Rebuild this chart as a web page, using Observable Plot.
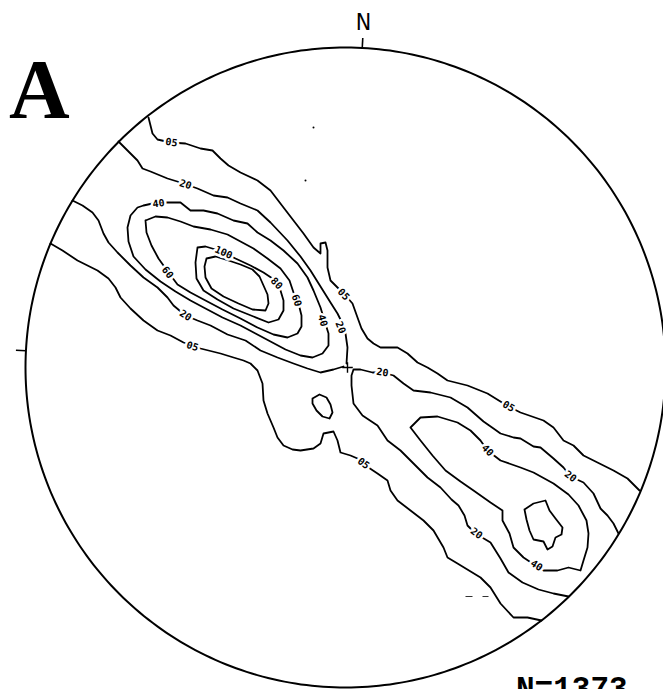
<!DOCTYPE html>
<html>
<head>
<meta charset="utf-8">
<script src="https://cdn.jsdelivr.net/npm/d3@7"></script>
<script src="https://cdn.jsdelivr.net/npm/@observablehq/plot@0.6"></script>
<style>
html,body{margin:0;padding:0;background:#fff;overflow:hidden}
#chart{position:relative;width:663px;height:689px}
</style>
</head>
<body>
<div id="chart"></div>
<script>
// Net coordinates: origin at the centre of the equal-area net, x east, y north, net radius R.
const R = 320;
const panelLetter = "A";
const sampleLabel = "N=1373";
const northLabel = "N";
const tickAzimuths = [3, 273];          // degrees clockwise from the top of the net
const centreMark = [[2, 0]];

// Contour lines (density in % per 1% area), traced as [x, y] net coordinates
const contour05Upper = [[-197,250],[-193,234],[-188,228],[-175,225],[-160,224],[-145,219],[-133,217],[-125,209],[-117,202],[-105,195],[-88,187],[-75,177],[-62,160],[-52,147],[-42,134],[-32,120],[-25,114],[-25,124],[-20,125],[-18,117],[-18,100],[-15,87],[-10,82],[0,72],[7,64],[12,50],[16,39],[22,29],[28,24],[35,20],[52,20],[62,14],[72,5],[82,0],[92,-6],[102,-13],[122,-18],[142,-26],[163,-39],[175,-45],[198,-53],[208,-60],[218,-73],[228,-78],[238,-88],[252,-95],[268,-103],[282,-111],[294,-123]];
const contour05Lower = [[-295,124],[-283,117],[-268,107],[-248,97],[-237,89],[-230,80],[-225,70],[-215,59],[-202,47],[-188,37],[-175,32],[-162,25],[-145,19],[-125,14],[-112,10],[-102,7],[-95,4],[-88,-3],[-83,-16],[-82,-33],[-78,-46],[-72,-60],[-68,-70],[-62,-78],[-53,-82],[-45,-83],[-32,-81],[-25,-76],[-22,-66],[-12,-64],[-8,-73],[-5,-85],[5,-88],[12,-91],[20,-98],[32,-106],[42,-113],[45,-123],[52,-133],[65,-143],[78,-153],[88,-163],[98,-180],[102,-190],[112,-196],[135,-210],[145,-220],[155,-236],[168,-250],[182,-250],[196,-253]];
const contour20NWUpper = [[-227,226],[-218,217],[-208,207],[-203,199],[-195,196],[-178,189],[-165,185],[-148,179],[-132,172],[-118,170],[-105,164],[-88,157],[-75,145],[-58,127],[-45,111],[-35,97],[-25,81],[-15,65],[-8,54],[-3,44],[0,34],[2,20],[1,4]];
const contour20NWLower = [[-273,167],[-263,162],[-253,155],[-247,147],[-242,134],[-237,125],[-228,115],[-215,102],[-202,90],[-188,80],[-178,70],[-172,62],[-160,52],[-148,47],[-135,42],[-118,33],[-100,27],[-85,17],[-68,10],[-52,4],[-38,-1],[-25,-5],[-12,-2],[-2,1]];
const contour20SE = [[273,-166],[268,-156],[262,-148],[255,-141],[248,-126],[238,-115],[225,-109],[218,-100],[208,-91],[195,-80],[188,-79],[175,-71],[168,-70],[155,-66],[148,-61],[138,-54],[122,-40],[105,-30],[85,-25],[68,-23],[58,-16],[48,-8],[37,-5],[27,-5],[15,-2],[8,-2],[6,-8],[6,-18],[8,-36],[17,-48],[32,-58],[42,-73],[55,-83],[68,-96],[82,-110],[95,-120],[106,-132],[113,-138],[119,-148],[122,-158],[130,-166],[145,-175],[155,-191],[163,-205],[177,-215],[193,-222],[208,-226],[223,-229]];
const contour20Blob = [[-33,-31],[-26,-27],[-19,-30],[-15,-37],[-13,-45],[-16,-51],[-23,-49],[-29,-43],[-33,-36],[-33,-31]];
const contour40NW = [[-202,162],[-193,164],[-178,165],[-165,165],[-155,157],[-142,157],[-128,154],[-112,147],[-98,144],[-88,135],[-75,127],[-62,117],[-48,104],[-38,90],[-32,77],[-25,60],[-22,50],[-17,34],[-17,22],[-23,14],[-33,10],[-45,12],[-60,18],[-75,26],[-90,34],[-105,42],[-123,50],[-140,59],[-155,67],[-170,76],[-185,86],[-200,98],[-212,111],[-217,126],[-218,140],[-215,152],[-208,160],[-202,162]];
const contour60NW = [[-200,147],[-190,151],[-178,150],[-165,146],[-152,141],[-135,138],[-118,133],[-105,126],[-92,119],[-78,109],[-65,99],[-56,87],[-52,75],[-47,64],[-44,52],[-44,41],[-48,34],[-58,30],[-72,33],[-88,40],[-105,49],[-123,58],[-140,67],[-155,75],[-168,83],[-177,95],[-187,109],[-194,122],[-199,135],[-200,147]];
const contour80NW = [[-148,120],[-140,121],[-130,118],[-120,114],[-110,109],[-95,102],[-82,95],[-73,89],[-65,77],[-62,67],[-62,57],[-67,48],[-77,45],[-92,51],[-112,59],[-128,68],[-142,77],[-149,89],[-150,105],[-148,120]];
const contour100NW = [[-139,109],[-130,111],[-117,107],[-105,103],[-93,98],[-86,91],[-82,82],[-78,73],[-77,64],[-80,57],[-93,58],[-107,64],[-122,71],[-134,79],[-140,90],[-141,101],[-139,109]];
const contour40SE = [[65,-60],[75,-50],[92,-49],[112,-55],[125,-63],[135,-73],[142,-83],[155,-93],[175,-100],[188,-105],[208,-116],[223,-127],[233,-138],[241,-153],[243,-166],[242,-180],[238,-193],[235,-203],[223,-200],[212,-203],[198,-203],[190,-198],[178,-190],[168,-180],[164,-166],[157,-153],[157,-143],[145,-135],[128,-123],[115,-114],[100,-103],[87,-88],[75,-73],[65,-60]];
const contour60SE = [[179,-142],[188,-136],[200,-133],[204,-143],[210,-151],[217,-160],[216,-167],[210,-170],[207,-179],[202,-182],[198,-174],[188,-172],[184,-163],[181,-152],[179,-142]];

// Contour labels
const labelTexts    = ["05","20","40","60","100","80","60","40","20","05","20","05","20","05","40","20","05","20","40"];
const labelX        = [-174,-160,-187,-178,-122,-69,-49,-23,-5,-2,-160,-153,37,163,142,225,18,131,191];
const labelY        = [225,183,164,95,115,84,67,47,40,73,52,21,-5,-39,-83,-109,-96,-166,-198];
const labelContours = ["05U","20NWU","40NW","60NW","80NW","80NW","60NW","40NW","20NWU","05U","20NWL","05L","20SE","05U","40SE","20SE","05L","20SE","40SE"];

// Small scan specks
const specks = [[-32,240],[-40,187]];
const dashes = [[120,127,-229],[137,143,-229]];

// ---- build tables ----
const contourList = [
  ["05U", contour05Upper], ["05L", contour05Lower],
  ["20NWU", contour20NWUpper], ["20NWL", contour20NWLower], ["20SE", contour20SE], ["20B", contour20Blob],
  ["40NW", contour40NW], ["40SE", contour40SE],
  ["60NW", contour60NW], ["60SE", contour60SE],
  ["80NW", contour80NW], ["100NW", contour100NW]
];
const contourMap = new Map(contourList);
const contourRows = [];
for (const [id, pts] of contourList) pts.forEach(([x, y], i) => contourRows.push({id, x, y, i}));

function angleAt(pts, x, y) {
  let best = 0, bd = Infinity;
  pts.forEach(([px, py], i) => { const d = (px - x) ** 2 + (py - y) ** 2; if (d < bd) { bd = d; best = i; } });
  const a = pts[Math.max(0, best - 1)], b = pts[Math.min(pts.length - 1, best + 1)];
  let ang = -Math.atan2(b[1] - a[1], b[0] - a[0]) * 180 / Math.PI;
  if (ang > 90) ang -= 180;
  if (ang < -90) ang += 180;
  return ang;
}
const labelRows = labelTexts.map((t, i) => ({
  text: t, x: labelX[i], y: labelY[i],
  angle: angleAt(contourMap.get(labelContours[i]), labelX[i], labelY[i])
}));

const rad = Math.PI / 180;
const outline = d3.range(0, 361, 1).map(a => ({x: R * Math.sin(a * rad), y: R * Math.cos(a * rad)}));
const tickRows = tickAzimuths.map(az => ({
  x1: R * Math.sin(az * rad), y1: R * Math.cos(az * rad),
  x2: (R + 10) * Math.sin(az * rad), y2: (R + 10) * Math.cos(az * rad)
}));
const northRow = [{x: (R + 25) * Math.sin(tickAzimuths[0] * rad), y: (R + 25) * Math.cos(tickAzimuths[0] * rad), t: northLabel}];

const plot = Plot.plot({
  width: 663,
  height: 689,
  margin: 0,
  x: {domain: [-345, 318], range: [0, 663], axis: null},
  y: {domain: [-322, 367], range: [689, 0], axis: null},
  style: {background: "white", overflow: "hidden"},
  marks: [
    Plot.line(outline, {x: "x", y: "y", stroke: "black", strokeWidth: 2}),
    Plot.link(tickRows, {x1: "x1", y1: "y1", x2: "x2", y2: "y2", stroke: "black", strokeWidth: 1.6}),
    Plot.line(contourRows, {x: "x", y: "y", z: "id", stroke: "black", strokeWidth: 1.8, strokeLinejoin: "round", strokeLinecap: "round"}),
    Plot.link(dashes, {x1: d => d[0], x2: d => d[1], y1: d => d[2], y2: d => d[2], stroke: "#333", strokeWidth: 1}),
    Plot.dot(specks, {x: d => d[0], y: d => d[1], r: 1, fill: "black"}),
    Plot.dot(centreMark, {x: d => d[0], y: d => d[1], symbol: "plus", r: 3.5, stroke: "black", strokeWidth: 1.4}),
    Plot.text(labelRows, {x: "x", y: "y", text: "text", rotate: "angle", fontSize: 10, fontWeight: "bold",
      fontFamily: "DejaVu Sans Mono", fill: "black", stroke: "white", strokeWidth: 5, ariaLabel: "contour-labels"}),
    Plot.text(northRow, {x: "x", y: "y", text: "t", fontSize: 23, fontFamily: "DejaVu Sans Condensed, DejaVu Sans, sans-serif", fill: "black"})
  ]
});

d3.select(plot).selectAll('g[aria-label="contour-labels"] text').attr("letter-spacing", "2px");

const svg = d3.select(plot);
svg.append("text").attr("x", 9).attr("y", 118).attr("text-anchor", "start")
  .attr("font-family", "Liberation Serif, DejaVu Serif, serif").attr("font-weight", "bold")
  .attr("font-size", 84).attr("fill", "black").text(panelLetter);
svg.append("text").attr("x", 516).attr("y", 698).attr("text-anchor", "start")
  .attr("font-family", "Liberation Mono, DejaVu Sans Mono, monospace").attr("font-weight", "bold")
  .attr("font-size", 31).attr("fill", "black").text(sampleLabel);

document.getElementById("chart").appendChild(plot);
</script>
</body>
</html>
